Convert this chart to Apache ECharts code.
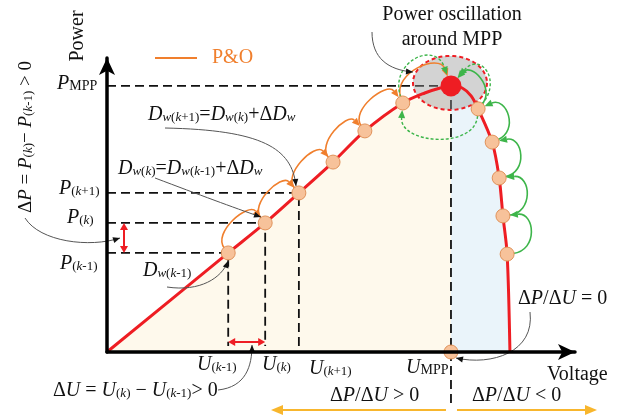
<!DOCTYPE html>
<html><head><meta charset="utf-8">
<script src="https://cdn.jsdelivr.net/npm/echarts@6/dist/echarts.min.js"></script>
<style>html,body{margin:0;padding:0;background:#fff}#c{width:618px;height:419px}</style>
</head><body><div id="c"></div>
<script>
// ---- Data (schematic units: voltage / power) ----
const curveVoltage = [0, 25.9, 33.8, 41.0, 48.3, 55.1, 63.2, 67.9, 71.2, 73.5, 75.9, 77.8, 79.3, 82.3, 83.8, 84.6, 85.5, 86.1];
const curvePower   = [0, 33.7, 43.9, 54.1, 64.6, 75.2, 84.7, 88.1, 89.8, 90.5, 89.8, 87.1, 82.7, 71.4, 59.2, 46.3, 33.3, 0];
const leftStepsU  = [25.9, 33.8, 41.0, 48.3, 55.1, 63.2];
const leftStepsP  = [33.7, 43.9, 54.1, 64.6, 75.2, 84.7];
const rightStepsU = [79.3, 82.3, 83.8, 84.6, 85.5];
const rightStepsP = [82.7, 71.4, 59.2, 46.3, 33.3];
const mppU = 73.5, mppP = 90.5;
const uMppExtension = -18;

const FONT = "'Liberation Serif','Times New Roman',serif";
const RED = '#EE1D23', ORANGE = '#F07F2D', GREEN = '#3DB54A', YELLOW = '#F8B62D';

const chart = echarts.init(document.getElementById('c'));
const curve = curveVoltage.map((u, i) => [u, curvePower[i]]);
const iM = curveVoltage.indexOf(mppU);
const dash = {color: '#111', width: 1.8, type: [9, 5]};
function guide(pts) {
  return {type: 'line', data: pts, symbol: 'none', silent: true, clip: false, z: 2, lineStyle: dash, animation: false};
}
const series = [
  {type: 'line', data: curve.slice(0, iM + 1), smooth: 0.3, symbol: 'none', lineStyle: {width: 0}, areaStyle: {color: '#FEF9EC', opacity: 1}, z: 1},
  {type: 'line', data: curve.slice(iM), smooth: 0.3, symbol: 'none', lineStyle: {width: 0}, areaStyle: {color: '#EAF4FA', opacity: 1}, z: 1},
  guide([[0, mppP], [mppU, mppP]]),
  guide([[mppU, mppP], [mppU, uMppExtension]]),
  guide([[0, leftStepsP[2]], [leftStepsU[2], leftStepsP[2]], [leftStepsU[2], 0]]),
  guide([[0, leftStepsP[1]], [leftStepsU[1], leftStepsP[1]], [leftStepsU[1], 2]]),
  guide([[0, leftStepsP[0]], [leftStepsU[0], leftStepsP[0]], [leftStepsU[0], 2]]),
  {type: 'line', data: curve, smooth: 0.3, symbol: 'none', lineStyle: {color: RED, width: 3}, z: 4},
  {type: 'scatter', data: leftStepsU.map((u, i) => [u, leftStepsP[i]]).concat(rightStepsU.map((u, i) => [u, rightStepsP[i]])).concat([[mppU, 0]]),
   symbolSize: 14, itemStyle: {color: '#F7C29A', borderColor: '#E0925A', borderWidth: 1, opacity: 1}, z: 6},
  {type: 'scatter', data: [[mppU, mppP]], symbolSize: 21, itemStyle: {color: RED, opacity: 1}, z: 7}
];
chart.setOption({
  animation: false,
  grid: {left: 107, top: 58, width: 468, height: 294},
  xAxis: {type: 'value', min: 0, max: 100, z: 10,
    axisLine: {onZero: false, lineStyle: {color: '#000', width: 3.5}, symbol: ['none', 'arrow'], symbolSize: [12, 17]},
    axisTick: {show: false}, axisLabel: {show: false}, splitLine: {show: false}},
  yAxis: {type: 'value', min: 0, max: 100, z: 10,
    axisLine: {onZero: false, lineStyle: {color: '#000', width: 3.5}, symbol: ['none', 'arrow'], symbolSize: [12, 17]},
    axisTick: {show: false}, axisLabel: {show: false}, splitLine: {show: false}},
  series: series
});

const px = p => chart.convertToPixel({gridIndex: 0}, p);
const G = [];
function arrowHead(tip, dir, color, L, W, z) {
  const len = Math.hypot(dir[0], dir[1]); const ux = dir[0] / len, uy = dir[1] / len;
  const bx = tip[0] - ux * L, by = tip[1] - uy * L;
  G.push({type: 'polygon', z: z, silent: true, shape: {points: [tip, [bx - uy * W / 2, by + ux * W / 2], [bx + uy * W / 2, by - ux * W / 2]]}, style: {fill: color}});
}
function stepArc(a, b, side, hf, color, dashed, r1, r2, z) {
  const p1 = px(a), p2 = px(b);
  const dx = p2[0] - p1[0], dy = p2[1] - p1[1], len = Math.hypot(dx, dy);
  const nx = side * dy / len, ny = -side * dx / len;
  const h = hf * len;
  const s = [p1[0] + nx * r1, p1[1] + ny * r1];
  const tip = [p2[0] + nx * r2, p2[1] + ny * r2];
  const L = 8;
  const base = [tip[0] + nx * L, tip[1] + ny * L];
  G.push({type: 'bezierCurve', z: z, silent: true,
    shape: {x1: s[0], y1: s[1], cpx1: s[0] + nx * h, cpy1: s[1] + ny * h, cpx2: tip[0] + nx * h, cpy2: tip[1] + ny * h, x2: base[0], y2: base[1]},
    style: {stroke: color, lineWidth: dashed ? 1.4 : 1.6, lineDash: dashed ? [3, 2] : null, fill: null}});
  arrowHead(tip, [-nx, -ny], color, L, 7, z);
}
function annot(s, c1, c2, t) {
  G.push({type: 'bezierCurve', z: 8, silent: true,
    shape: {x1: s[0], y1: s[1], cpx1: c1[0], cpy1: c1[1], cpx2: c2[0], cpy2: c2[1], x2: t[0], y2: t[1]},
    style: {stroke: '#555', lineWidth: 1, fill: null}});
  arrowHead(t, [t[0] - c2[0], t[1] - c2[1]], '#111', 7, 6, 8);
}
function dblArrow(p, q, color) {
  const dx = q[0] - p[0], dy = q[1] - p[1];
  const L = 7, len = Math.hypot(dx, dy), ux = dx / len, uy = dy / len;
  G.push({type: 'line', z: 8, silent: true, shape: {x1: p[0] + ux * 5, y1: p[1] + uy * 5, x2: q[0] - ux * 5, y2: q[1] - uy * 5}, style: {stroke: color, lineWidth: 2}});
  arrowHead(q, [dx, dy], color, L, 8, 8);
  arrowHead(p, [-dx, -dy], color, L, 8, 8);
}

// ellipse around MPP
const M = px([mppU, mppP]);
const ell = [];
for (let k = 0; k < 72; k++) { const t = k / 72 * Math.PI * 2; ell.push([M[0] - 1 + 37 * Math.cos(t), M[1] - 3 + 27 * Math.sin(t)]); }
G.push({type: 'polygon', z: 3, silent: true, shape: {points: ell}, style: {fill: 'rgba(150,150,150,0.42)', stroke: RED, lineWidth: 2, lineDash: [4, 3]}});

// P&O step arcs (left side)
const L_ = leftStepsU.map((u, i) => [u, leftStepsP[i]]);
for (let i = 0; i < L_.length - 1; i++) stepArc(L_[i], L_[i + 1], 1, 0.42, ORANGE, false, 6, 7, 5);
stepArc(L_[5], [mppU, mppP], 1, 0.5, ORANGE, false, 6, 10, 5);
stepArc(L_[5], [mppU, mppP], 1, 0.72, GREEN, true, 6, 12, 5);
// right side
const R_ = rightStepsU.map((u, i) => [u, rightStepsP[i]]);
for (let i = R_.length - 1; i > 0; i--) stepArc(R_[i], R_[i - 1], -1, 0.66, GREEN, false, 6, 7, 5);
stepArc(R_[0], [mppU, mppP], -1, 0.6, GREEN, false, 6, 10, 5);
stepArc(R_[0], [mppU, mppP], -1, 0.9, GREEN, true, 6, 13, 5);
stepArc(R_[0], L_[5], 1, 0.45, GREEN, true, 7, 7, 5);

// red double arrows
const pk = px(L_[1]), pk1 = px(L_[0]);
dblArrow([124, pk[1]], [124, pk1[1]], RED);
dblArrow([pk1[0], 342], [pk[0], 342], RED);

// yellow region arrows
const U0 = px([mppU, 0]);
G.push({type: 'line', z: 8, silent: true, shape: {x1: U0[0] - 5, y1: 410, x2: 280, y2: 410}, style: {stroke: YELLOW, lineWidth: 2}});
arrowHead([271, 410], [-1, 0], YELLOW, 12, 10, 8);
G.push({type: 'line', z: 8, silent: true, shape: {x1: U0[0] + 6, y1: 410, x2: 588, y2: 410}, style: {stroke: YELLOW, lineWidth: 2}});
arrowHead([597, 410], [1, 0], YELLOW, 12, 10, 8);

// annotation arrows
annot([372, 32], [372, 58], [388, 70], [413, 72]);
annot([165, 128], [262, 130], [292, 148], [296, 186]);
annot([155, 178], [200, 195], [232, 207], [261, 217]);
annot([167, 287], [200, 292], [222, 278], [228, 261]);
annot([25, 218], [40, 242], [90, 248], [120, 238]);
annot([218, 390], [246, 387], [252, 366], [252, 345]);
annot([530, 312], [535, 352], [492, 366], [456, 358]);

// legend
G.push({type: 'line', z: 8, silent: true, shape: {x1: 155, y1: 58, x2: 197, y2: 58}, style: {stroke: ORANGE, lineWidth: 2}});

// texts
function mkRich(fs, ss) {
  return {
    i: {fontFamily: FONT, fontStyle: 'italic', fontSize: fs, lineHeight: fs + 4, verticalAlign: 'top', fill: '#111'},
    r: {fontFamily: FONT, fontSize: fs, lineHeight: fs + 4, verticalAlign: 'top', fill: '#111'},
    s: {fontFamily: FONT, fontSize: ss, lineHeight: ss, padding: [fs * 0.3, 0, 0, 0], verticalAlign: 'top', fill: '#111'},
    sk: {fontFamily: FONT, fontStyle: 'italic', fontSize: ss, lineHeight: ss, padding: [fs * 0.3, 0, 0, 0], verticalAlign: 'top', fill: '#111'},
    m: {fontFamily: FONT, fontSize: ss + 1, lineHeight: ss + 1, padding: [fs * 0.25, 0, 0, 0], verticalAlign: 'top', fill: '#111'}
  };
}
const rich20 = mkRich(20, 13), rich19 = mkRich(19, 13);
function T(text, x, y, align, rot, rich) {
  G.push({type: 'text', z: 9, silent: true, x: x, y: y, rotation: rot || 0,
    style: {text: text, rich: rich || rich20, fontFamily: FONT, fontSize: 20, fill: '#111', align: align || 'left', verticalAlign: 'middle'}});
}
const sub = s => '{s|(}{sk|k}{s|' + s + ')}';
T('{r|Power}', 80, 36, 'center', Math.PI / 2);
T('{r|Power oscillation}', 452, 17, 'center');
T('{r|around MPP}', 452, 42, 'center');
G.push({type: 'text', z: 9, x: 212, y: 58, style: {text: 'P&O', fontFamily: FONT, fontSize: 20, fill: ORANGE, align: 'left', verticalAlign: 'middle'}});
T('{i|P}{m|MPP}', 57, 86);
T('{i|P}' + sub('+1'), 59, 191);
T('{i|P}' + sub(''), 67, 220);
T('{i|P}' + sub('-1'), 60, 266);
T('{r|Δ}{i|P}{r| = }{i|P}' + sub('') + '{r|− }{i|P}' + sub('-1') + '{r| > 0}', 28, 137, 'center', Math.PI / 2, rich19);
T('{i|D}{sk|w}' + sub('+1') + '{r|=}{i|D}{sk|w}' + sub('') + '{r|+Δ}{i|D}{sk|w}', 148, 117);
T('{i|D}{sk|w}' + sub('') + '{r|=}{i|D}{sk|w}' + sub('-1') + '{r|+Δ}{i|D}{sk|w}', 118, 171);
T('{i|D}{sk|w}' + sub('-1'), 143, 273);
T('{i|U}' + sub('-1'), 197, 367);
T('{i|U}' + sub(''), 262, 367);
T('{i|U}' + sub('+1'), 309, 371);
T('{i|U}{m|MPP}', 406, 370);
T('{r|Voltage}', 547, 377);
T('{r|Δ}{i|U}{r| = }{i|U}' + sub('') + '{r| − }{i|U}' + sub('-1') + '{r|> 0}', 53, 393);
T('{r|Δ}{i|P}{r|/Δ}{i|U}{r| > 0}', 330, 398);
T('{r|Δ}{i|P}{r|/Δ}{i|U}{r| < 0}', 472, 398);
T('{r|Δ}{i|P}{r|/Δ}{i|U}{r| = 0}', 518, 301);

chart.setOption({graphic: {elements: G}});
</script></body></html>
